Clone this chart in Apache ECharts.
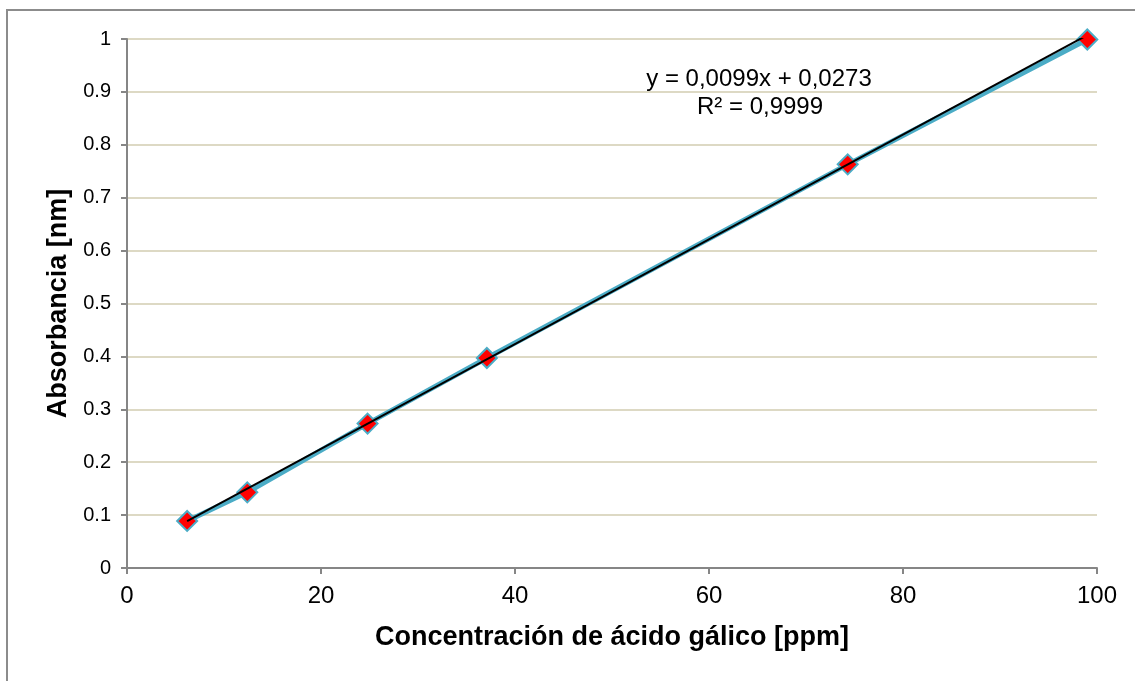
<!DOCTYPE html>
<html>
<head>
<meta charset="utf-8">
<script src="https://cdn.jsdelivr.net/npm/echarts@6/dist/echarts.min.js"></script>
<style>
  html, body { margin: 0; padding: 0; background: #ffffff; }
  #chart { width: 1135px; height: 681px; }
</style>
</head>
<body>
<div id="chart"></div>
<script>
// Calibration standards: gallic acid concentration (ppm) vs absorbance
const concentration = [6.2, 12.4, 24.8, 37.1, 74.3, 99];
const absorbance = [0.089, 0.143, 0.273, 0.397, 0.763, 0.999];

// Linear trendline as reported on the chart
const slope = 0.0099;
const intercept = 0.0273;
const equationText = 'y = 0,0099x + 0,0273';
const r2Text = 'R² = 0,9999';

const xTitle = 'Concentración de ácido gálico [ppm]';
const yTitle = 'Absorbancia [nm]';

const points = concentration.map((x, i) => [x, absorbance[i]]);
const xMin = Math.min(...concentration);
const xMax = Math.max(...concentration);
const trend = [[xMin, slope * xMin + intercept], [xMax, slope * xMax + intercept]];

const FONT = '"Liberation Sans", Arial, sans-serif';
const AXIS_GRAY = '#868686';
// square diamond (equal width and height)
const DIAMOND = 'path://M0,-1L1,0L0,1L-1,0Z';

const chart = echarts.init(document.getElementById('chart'), null, { renderer: 'canvas' });
chart.setOption({
  animation: false,
  backgroundColor: '#ffffff',
  textStyle: { fontFamily: FONT },
  grid: { left: 127, right: 38, top: 39, bottom: 113, containLabel: false },
  graphic: [
    {
      type: 'rect',
      shape: { x: 7, y: 10, width: 1140, height: 700 },
      style: { fill: 'none', stroke: '#8c8c8c', lineWidth: 2 },
      silent: true
    },
    {
      type: 'text',
      style: {
        x: 759, y: 79, text: equationText, fill: '#000', font: '24px ' + FONT,
        align: 'center', verticalAlign: 'middle'
      }
    },
    {
      type: 'text',
      style: {
        x: 760, y: 107, text: r2Text, fill: '#000', font: '24px ' + FONT,
        align: 'center', verticalAlign: 'middle'
      }
    }
  ],
  xAxis: {
    type: 'value',
    min: 0, max: 100, interval: 20,
    name: xTitle,
    nameLocation: 'middle',
    nameGap: 56,
    nameTextStyle: { fontFamily: FONT, fontSize: 27, fontWeight: 'bold', color: '#000' },
    axisLine: { show: true, lineStyle: { color: AXIS_GRAY, width: 2 } },
    axisTick: { show: true, length: 6, lineStyle: { color: AXIS_GRAY, width: 2 } },
    axisLabel: { fontFamily: FONT, fontSize: 24, color: '#000', margin: 16 },
    splitLine: { show: false }
  },
  yAxis: {
    type: 'value',
    min: 0, max: 1, interval: 0.1,
    name: yTitle,
    nameLocation: 'middle',
    nameGap: 52,
    nameTextStyle: { fontFamily: FONT, fontSize: 27, fontWeight: 'bold', color: '#000' },
    axisLine: { show: true, lineStyle: { color: AXIS_GRAY, width: 2 } },
    axisTick: { show: true, length: 6, lineStyle: { color: AXIS_GRAY, width: 2 } },
    axisLabel: {
      fontFamily: FONT, fontSize: 20, color: '#000', margin: 16,
      formatter: v => String(Math.round(v * 10) / 10)
    },
    splitLine: { show: true, lineStyle: { color: '#ddd9c4', width: 2 } }
  },
  series: [
    {
      name: 'Absorbancia',
      type: 'line',
      data: points,
      z: 2,
      lineStyle: { color: '#4bacc6', width: 5 },
      symbol: DIAMOND,
      symbolSize: 20,
      itemStyle: { color: '#ff0000', borderColor: '#4bacc6', borderWidth: 2 },
      emphasis: { disabled: true }
    },
    {
      name: 'Lineal',
      type: 'line',
      data: trend,
      z: 3,
      symbol: 'none',
      lineStyle: { color: '#000000', width: 2 },
      emphasis: { disabled: true }
    }
  ]
});
</script>
</body>
</html>
